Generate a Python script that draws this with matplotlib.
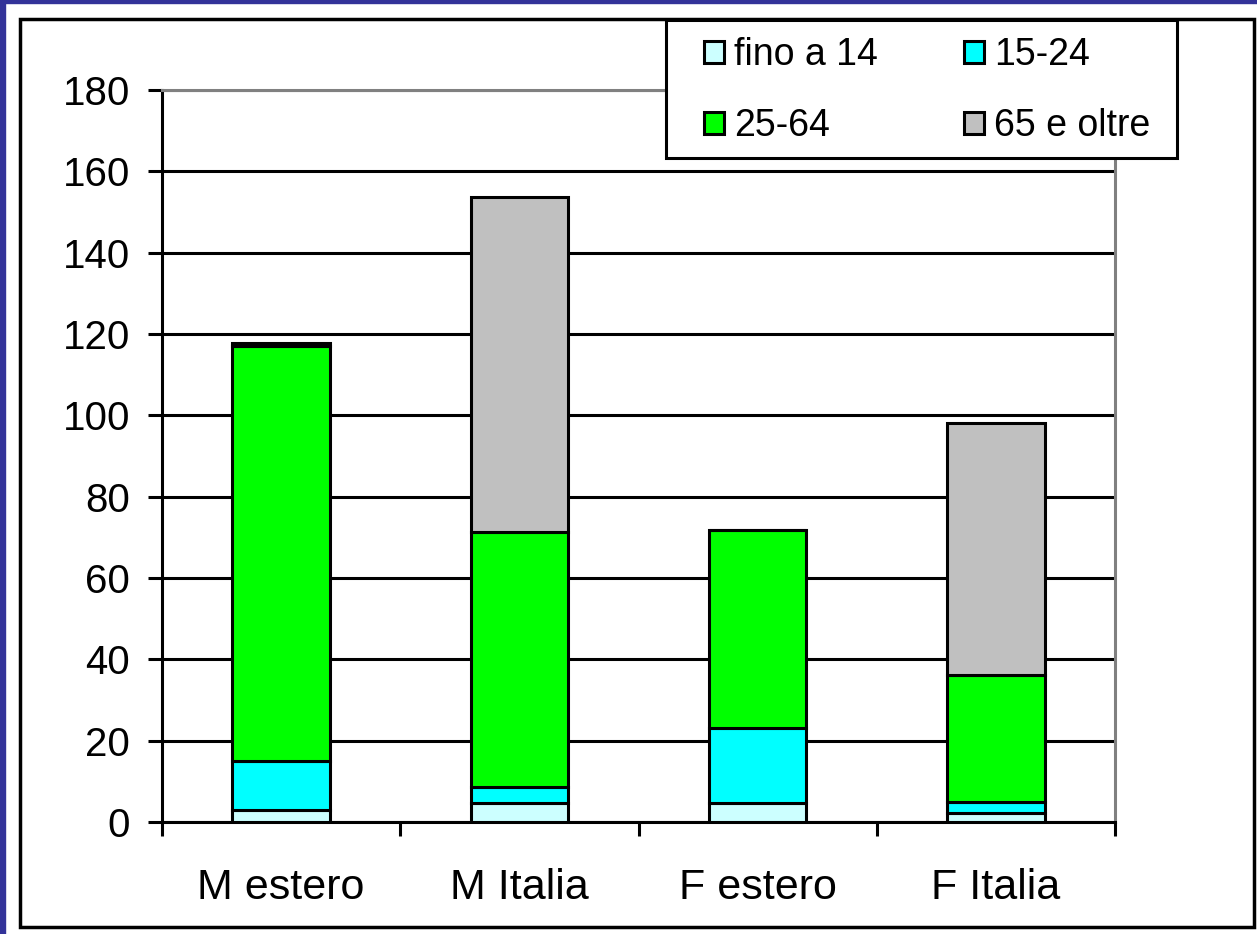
import matplotlib.pyplot as plt
from matplotlib.patches import Rectangle, Patch
import numpy as np

plt.rcParams['font.family'] = ['Liberation Sans', 'DejaVu Sans']

categorie = ["M estero", "M Italia", "F estero", "F Italia"]
fasce = ["fino a 14", "15-24", "25-64", "65 e oltre"]
fino_14 = [3.0, 4.7, 4.7, 2.2]
da_15_24 = [12.1, 3.8, 18.4, 2.6]
da_25_64 = [102.0, 62.9, 48.6, 31.4]
oltre_65 = [0.6, 82.3, 0.0, 61.8]
colori = ["#CCFFFF", "#00FFFF", "#00FF00", "#C0C0C0"]

W, H = 1257, 934
LW = 2.2
fig = plt.figure(figsize=(W / 100, H / 100), dpi=100, facecolor="white")

# navy slide border and black chart frame
fig.patches.append(Rectangle((0, 0), 5 / W, 1, transform=fig.transFigure,
                             color="#333399", zorder=0))
fig.patches.append(Rectangle((0, 1 - 3 / H), 1, 3 / H, transform=fig.transFigure,
                             color="#333399", zorder=0))
fig.patches.append(Rectangle((20 / W, 1 - 927 / H), 1234 / W, 908 / H,
                             transform=fig.transFigure, fill=False,
                             edgecolor="black", linewidth=2.5, zorder=1))

ax = fig.add_axes([162 / W, (H - 822) / H, 953 / W, 732 / H])

x = np.arange(len(categorie))
serie = [fino_14, da_15_24, da_25_64, oltre_65]
base = np.zeros(len(categorie))
for valori, colore, nome in zip(serie, colori, fasce):
    ax.bar(x, valori, 0.41, bottom=base, color=colore, edgecolor="black",
           linewidth=LW, label=nome, zorder=3)
    base += np.array(valori)

ax.set_xlim(-0.5, 3.5)
ax.set_ylim(0, 180)
ax.set_yticks(range(0, 181, 20))
ax.yaxis.grid(True, color="black", linewidth=LW)
ax.set_axisbelow(True)

ax.set_xticks(x)
ax.set_xticklabels(categorie)
ax.set_xticks(np.arange(-0.5, 3.6, 1), minor=True)
ax.tick_params(axis="x", which="major", length=0, pad=33, labelsize=31)
ax.tick_params(axis="x", which="minor", length=10, width=LW, direction="out")
ax.tick_params(axis="y", length=10, width=LW, direction="out", pad=13,
               labelsize=29)

ax.spines["left"].set_linewidth(LW)
ax.spines["bottom"].set_linewidth(LW)
for lato in ["top", "right"]:
    ax.spines[lato].set_color("#808080")
    ax.spines[lato].set_linewidth(LW)

# legend box drawn separately, white so it hides the plot border below it
fig.patches.append(Rectangle((666 / W, 1 - 158 / H), 511 / W, 138 / H,
                             transform=fig.transFigure, facecolor="white",
                             edgecolor="black", linewidth=LW, zorder=5))

# row-wise order like the original legend (matplotlib fills by column)
ordine = [0, 2, 1, 3]
maniglie = [Patch(facecolor=colori[i], edgecolor="black", linewidth=LW)
            for i in ordine]
etichette = [fasce[i] for i in ordine]
leg = fig.legend(maniglie, etichette, loc="upper left",
                 bbox_to_anchor=(704 / W, 1 - 37 / H), ncol=2, fontsize=27,
                 frameon=False, handlelength=0.53, handleheight=0.53,
                 handletextpad=0.27, columnspacing=2.3, labelspacing=0.93,
                 borderpad=0, borderaxespad=0)
leg.set_zorder(6)

fig.savefig("out.png", dpi=100, facecolor="white")
